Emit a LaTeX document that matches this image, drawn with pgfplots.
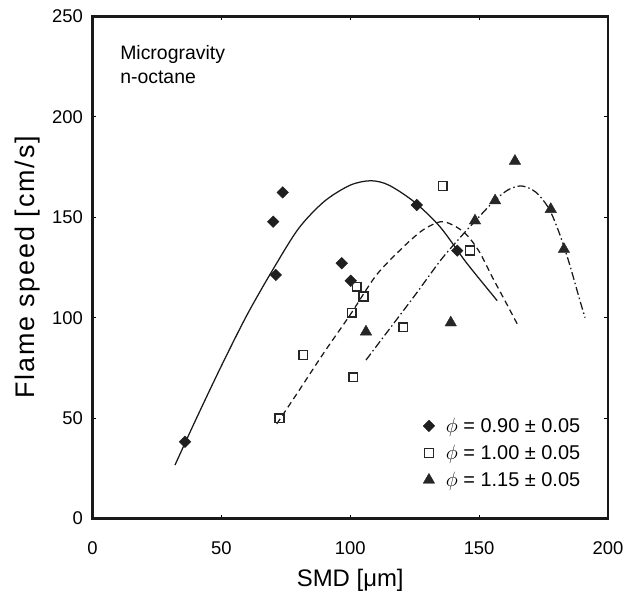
\documentclass[border=0pt]{standalone}
\usepackage{fontspec}
\setmainfont{Liberation Sans}
\usepackage{pgfplots}
\pgfplotsset{compat=1.18}
\begin{document}
\begin{tikzpicture}
\begin{axis}[
  at={(0,0)}, anchor=south west,
  scale only axis, width=515.5bp, height=502bp,
  xmin=0, xmax=200, ymin=0, ymax=250,
  xtick={0,50,...,200}, ytick={0,50,...,250},
  tick align=inside, major tick length=4bp,
  tick style={line width=1bp, black},
  axis line style={line width=2.4bp, black!90},
  /pgf/number format/assume math mode=true,
  ticklabel style={font=\fontsize{18.5}{20}\selectfont},
  xticklabel style={anchor=center, inner sep=0bp, yshift=-29.5bp},
  yticklabel style={anchor=east, inner sep=0bp, xshift=-9.5bp},
  xlabel={SMD [μm]},
  ylabel={Flame speed [cm/s]},
  xlabel style={font=\fontsize{24}{28}\selectfont, at={(axis description cs:0.5,-0.1225)}, anchor=center},
  ylabel style={font=\fontsize{27}{32}\selectfont\addfontfeatures{LetterSpace=7}, at={(axis description cs:-0.1251,0.5)}, anchor=center},
  legend cell align=left,
  legend image code/.code={\path[draw=none,fill=none] (-6bp,-13.5bp) rectangle (17bp,13.5bp); \draw[#1] plot coordinates {(0bp,0bp)};},
  legend style={draw=none, fill=none, inner sep=0bp, outer sep=0bp,
    nodes={inner sep=0bp, outer sep=0bp},
    font=\fontsize{20}{24}\selectfont,
    at={(axis cs:128.2,52.8)}, anchor=north west},
]
% phi = 0.90
\addplot[only marks, mark=square*, mark size=4.1bp, mark options={rotate=45, fill=black!88, draw=black!88}]
coordinates {(35.9,38.2) (70.1,147.8) (73.8,162.4) (71.1,121.3) (96.7,127.1) (100.2,118.4) (125.8,156.1) (141.5,133.4)};
\addlegendentry{$\phi$ = 0.90 ± 0.05}
% phi = 1.00
\addplot[only marks, mark=square, mark size=4.4bp, mark options={line width=1.5bp, draw=black!85}]
coordinates {(72.5,49.9) (81.8,81.4) (100.6,102.5) (101.2,70.3) (102.5,115.4) (105.1,110.5) (120.6,95.2) (135.9,165.6) (146.5,133.4)};
\addlegendentry{$\phi$ = 1.00 ± 0.05}
% phi = 1.15
\addplot[only marks, mark=triangle*, mark size=6.6bp, mark options={fill=black!85, draw=black!85}]
coordinates {(106.1,93.0) (139.0,97.5) (148.4,148.3) (156.2,158.3) (163.9,178) (177.8,154.0) (182.9,134.1)};
\addlegendentry{$\phi$ = 1.15 ± 0.05}
% fitted curves
\addplot[forget plot, smooth, line width=1.25bp, black!90] coordinates {
(32,26.6) (40,49) (50,76) (60,101.5) (70,124) (80,144.5) (90,158) (100,166) (108,168.2) (115,166) (125,157.5) (135,145) (145,127.5) (157,108.5)};
\addplot[forget plot, smooth, line width=1.25bp, black!90, dash pattern=on 6bp off 4bp] coordinates {
(71.5,47.1) (80,63.5) (90,83) (100,101.5) (110,121) (120,134.5) (128,143.5) (135,147.8) (140,146) (145,141.5) (150,133) (155,120.5) (160,108.5) (165.2,95.9)};
\addplot[forget plot, smooth, line width=1.25bp, black!90, dash pattern=on 8bp off 3bp on 1.5bp off 3bp] coordinates {
(106.1,78.9) (115,94) (125,111) (135,128.5) (142,139) (148,147.5) (155,157) (161,163.5) (166.5,165.6) (172,162.5) (177,154.5) (181,142.5) (185,127) (189,109) (191.1,100)};
\node[anchor=north west, inner sep=0bp, align=left, font=\fontsize{19.5}{24}\selectfont] at (axis cs:10.7,235.8) {Microgravity\\n-octane};
\end{axis}
\pgfresetboundingbox
\path[use as bounding box] (-92.5bp,-79.5bp) rectangle (533.5bp,518.5bp);
\end{tikzpicture}
\end{document}
